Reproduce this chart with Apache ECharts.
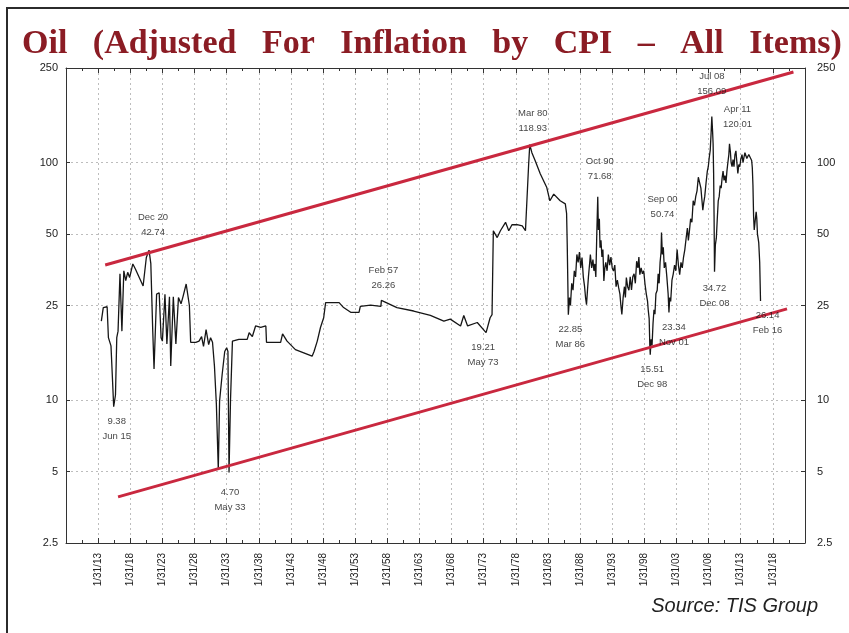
<!DOCTYPE html>
<html>
<head>
<meta charset="utf-8">
<title>Oil (Adjusted For Inflation by CPI – All Items)</title>
<script src="https://cdn.jsdelivr.net/npm/echarts@6/dist/echarts.min.js"></script>
<style>
  html, body { margin: 0; padding: 0; background: #fff; }
  #chart { width: 849px; height: 633px; }
</style>
</head>
<body>
<div id="chart"></div>
<script>
var chart = echarts.init(document.getElementById('chart'));

var years = [
  1913.5, 1913.8, 1914.4, 1914.6, 1915.0, 1915.2, 1915.42, 1915.7, 1915.9, 1916.1,
  1916.4, 1916.7, 1917.0, 1917.3, 1917.6, 1917.9, 1918.4, 1918.8, 1919.4, 1920.0,
  1920.5, 1920.92, 1921.2, 1921.5, 1921.7, 1922.1, 1922.5, 1922.8, 1923.0, 1923.4,
  1923.7, 1924.1, 1924.3, 1924.7, 1925.1, 1925.5, 1925.9, 1926.2, 1926.7, 1927.2,
  1927.4, 1928.2, 1928.7, 1929.1, 1929.4, 1929.8, 1930.2, 1930.5, 1930.8, 1931.1,
  1931.4, 1931.7, 1931.9, 1932.3, 1932.7, 1933.0, 1933.2, 1933.37, 1933.6, 1933.9,
  1934.2, 1934.9, 1936.2, 1936.5, 1937.0, 1937.5, 1938.3, 1939.1, 1939.2, 1941.4,
  1941.7, 1942.4, 1943.7, 1945.0, 1946.3, 1946.6, 1947.1, 1947.6, 1948.1, 1948.4,
  1950.5, 1951.2, 1952.3, 1953.6, 1953.8, 1955.4, 1957.0, 1957.08, 1959.5, 1962.1,
  1964.7, 1966.8, 1967.8, 1969.4, 1969.9, 1970.5, 1972.0, 1973.37, 1974.0, 1974.3,
  1974.5, 1975.1, 1975.6, 1976.4, 1976.9, 1977.4, 1978.2, 1979.0, 1979.5, 1980.0,
  1980.17, 1980.5, 1981.0, 1981.8, 1982.8, 1983.3, 1983.9, 1984.9, 1985.7, 1985.9,
  1986.0, 1986.17, 1986.35, 1986.5, 1986.7, 1986.9, 1987.1, 1987.3, 1987.5, 1987.7,
  1987.9, 1988.1, 1988.3, 1988.5, 1988.7, 1988.85, 1989.0, 1989.15, 1989.3, 1989.5,
  1989.6, 1989.8, 1990.0, 1990.15, 1990.3, 1990.45, 1990.6, 1990.75, 1990.85, 1991.0,
  1991.1, 1991.25, 1991.4, 1991.55, 1991.7, 1991.85, 1992.0, 1992.2, 1992.4, 1992.6,
  1992.8, 1993.0, 1993.2, 1993.4, 1993.6, 1993.8, 1994.0, 1994.2, 1994.35, 1994.5,
  1994.7, 1994.9, 1995.05, 1995.2, 1995.4, 1995.6, 1995.8, 1996.0, 1996.2, 1996.4,
  1996.6, 1996.8, 1997.0, 1997.15, 1997.3, 1997.5, 1997.7, 1997.9, 1998.1, 1998.3,
  1998.5, 1998.6, 1998.75, 1998.85, 1998.92, 1999.05, 1999.2, 1999.35, 1999.5, 1999.65,
  1999.8, 2000.0, 2000.15, 2000.3, 2000.45, 2000.6, 2000.67, 2000.8, 2000.95, 2001.1,
  2001.3, 2001.5, 2001.7, 2001.83, 2001.95, 2002.1, 2002.3, 2002.5, 2002.7, 2002.9,
  2003.1, 2003.3, 2003.5, 2003.7, 2003.9, 2004.1, 2004.3, 2004.5, 2004.7, 2004.85,
  2005.0, 2005.2, 2005.4, 2005.6, 2005.8, 2006.0, 2006.2, 2006.4, 2006.6, 2006.8,
  2006.95, 2007.1, 2007.25, 2007.4, 2007.6, 2007.8, 2007.95, 2008.1, 2008.25, 2008.4,
  2008.5, 2008.62, 2008.7, 2008.78, 2008.85, 2008.92, 2009.05, 2009.2, 2009.35, 2009.5,
  2009.65, 2009.8, 2009.95, 2010.1, 2010.25, 2010.4, 2010.55, 2010.7, 2010.85, 2011.0,
  2011.15, 2011.25, 2011.4, 2011.5, 2011.65, 2011.8, 2011.95, 2012.1, 2012.25, 2012.4,
  2012.55, 2012.7, 2012.85, 2013.0, 2013.2, 2013.35, 2013.5, 2013.65, 2013.8, 2013.95,
  2014.1, 2014.25, 2014.4, 2014.55, 2014.7, 2014.8, 2014.9, 2015.0, 2015.1, 2015.25,
  2015.4, 2015.5, 2015.6, 2015.7, 2015.8, 2015.95, 2016.08
];
var prices = [
  21.5, 24.5, 24.7, 18.3, 16.9, 12.8, 9.38, 10.5, 18.3, 19.5,
  34, 19.5, 35, 31.8, 34.5, 32.8, 37.4, 35.6, 32.8, 30.2,
  39.8, 42.74, 37.5, 19.5, 13.5, 27.9, 28.3, 18.3, 17.7, 27.9,
  17.2, 27.2, 13.9, 27.2, 17.2, 27.0, 25.4, 27.2, 30.8, 25.0,
  17.5, 17.5, 17.7, 18.5, 16.8, 19.8, 17.1, 18.3, 17.5, 13.9,
  9.6, 5.1, 9.9, 12.8, 16.0, 16.6, 16.0, 4.95, 10.0, 17.7,
  18.0, 18.0, 18.0, 19.2, 18.5, 20.5, 20.2, 20.5, 17.5, 17.5,
  19.0, 17.7, 16.3, 15.8, 15.3, 16.0, 17.7, 20.2, 22.2, 25.7,
  25.7, 24.5, 23.4, 23.4, 24.8, 25.1, 24.8, 26.26, 24.5, 23.7,
  22.7, 21.5, 21.9, 20.5, 22.7, 20.5, 21.2, 19.21, 22.2, 22.9,
  51.6, 48.3, 51.6, 56, 51.6, 54.7, 54.7, 54.1, 51.6, 98.8,
  118.93, 110, 102, 89.7, 78.7, 69, 73.6, 69, 67, 61,
  45, 22.85, 27, 25, 31, 29, 35, 33, 41, 38,
  42, 36, 39.8, 33, 30, 27, 25.2, 29, 33, 38,
  41, 36, 39, 35, 37.4, 33, 50, 71.68, 52, 58,
  43.8, 47, 40, 43, 31.7, 36, 38, 35, 41, 37,
  40, 36, 34.9, 37, 30, 32, 29.7, 27.9, 25, 22.9,
  27, 30, 27, 32.8, 30, 29, 33, 29.1, 33, 34,
  31, 38.4, 36, 40, 33.7, 36, 34, 35, 30.8, 28,
  26, 24, 22, 17, 15.51, 18, 17, 21, 24, 23,
  28, 29, 34, 31, 38, 42, 50.74, 41, 44, 36,
  38, 33, 28, 23.34, 27, 26, 32, 34, 37, 35,
  43, 37, 33.7, 38, 36, 40, 43, 48, 53, 47,
  51, 58, 56, 69, 66, 72, 76, 86.7, 88, 78,
  70, 63, 68, 72, 82, 92, 96, 105, 112.5, 135,
  156.09, 135, 120, 90, 60, 34.72, 45, 48, 58, 69,
  72, 80, 78, 86, 92, 84, 88, 82, 92, 100,
  108, 120.01, 110, 100, 96, 103, 96, 108, 112, 100,
  90, 98, 96, 103, 108, 100, 105, 110, 108, 104,
  106, 108, 110, 106, 102, 95, 80, 59.5, 52, 57,
  62, 58, 50, 48, 46, 38, 26.14
];

// trend channel end points
var upperYears = [1914.1, 2021.2];
var upperValues = [37.0, 240.6];
var lowerYears = [1916.1, 2020.2];
var lowerValues = [3.91, 24.2];

// callouts
var noteNames = ['Jun 15', 'Dec 20', 'May 33', 'Feb 57', 'May 73', 'Mar 80', 'Mar 86', 'Oct 90',
  'Dec 98', 'Sep 00', 'Nov 01', 'Jul 08', 'Apr 11', 'Dec 08', 'Feb 16'];
var noteYears = [1915.42, 1920.92, 1933.37, 1957.08, 1973.37, 1980.17, 1986.17, 1990.75,
  1998.92, 2000.67, 2001.83, 2008.5, 2011.25, 2008.92, 2016.08];
var noteValues = [9.38, 42.74, 4.70, 26.26, 19.21, 118.93, 22.85, 71.68,
  15.51, 50.74, 23.34, 156.09, 120.01, 34.72, 26.14];

// label placement for the callouts: side, distance, x shift
var noteLayout = [
  ['bottom', 7, 3], ['top', 10, 4], ['bottom', 7, 1], ['top', 8, 2], ['bottom', 7, -3],
  ['top', 9, 3], ['bottom', 7, 2], ['top', 13, 2], ['bottom', 7, 2], ['top', 11, 1],
  ['bottom', 7, 5], ['top', 18, 0], ['top', 12, 8], ['bottom', 9, 0], ['bottom', 7, 7]
];

var yTicks = [2.5, 5, 10, 25, 50, 100, 250];
var yMin = 2.5, yMax = 250;
var xMin = 1908, xMax = 2023, xStep = 5;

var logTicks = yTicks.map(function (v) { return Math.log10(v); });

function yLabel(v) {
  return String(parseFloat(Math.pow(10, v).toPrecision(3)));
}
function xLabel(v) {
  if (v <= xMin || v >= xMax) return '';
  var yy = Math.round(v) % 100;
  return '1/31/' + (yy < 10 ? '0' + yy : yy);
}

var red = '#c9283f';
var gridLine = { show: true, lineStyle: { color: '#bdbdbd', type: [2, 3], width: 1 } };

var notes = noteNames.map(function (n, i) {
  var lay = noteLayout[i];
  var val = noteValues[i].toFixed(2);
  return {
    value: [noteYears[i], noteValues[i]],
    label: {
      position: lay[0],
      distance: lay[1],
      offset: [lay[2], 0],
      formatter: lay[0] === 'top' ? n + '\n' + val : val + '\n' + n
    }
  };
});

var option = {
  backgroundColor: '#fff',
  animation: false,
  title: {
    text: 'Oil   (Adjusted   For   Inflation   by   CPI   –   All   Items)',
    left: 17,
    top: 22,
    textStyle: {
      fontFamily: 'Liberation Serif',
      fontWeight: 'bold',
      fontSize: 34,
      color: '#8b1c24'
    }
  },
  grid: { left: 66, right: 44, top: 68, bottom: 90 },
  xAxis: [
    {
      type: 'value', position: 'bottom',
      min: xMin, max: xMax, interval: xStep,
      axisLine: { lineStyle: { color: '#333', width: 1 } },
      axisTick: { inside: true, length: 5, lineStyle: { color: '#333' } },
      minorTick: { show: true, splitNumber: 2, length: 3, lineStyle: { color: '#333' } },
      splitLine: gridLine,
      axisLabel: {
        rotate: 90, margin: 10, fontSize: 10, color: '#222',
        fontFamily: 'Liberation Sans', formatter: xLabel
      }
    },
    {
      type: 'value', position: 'top',
      min: xMin, max: xMax, interval: xStep,
      axisLine: { lineStyle: { color: '#333', width: 1 } },
      axisTick: { inside: true, length: 5, lineStyle: { color: '#333' } },
      minorTick: { show: true, splitNumber: 2, length: 3, lineStyle: { color: '#333' } },
      splitLine: { show: false },
      axisLabel: { show: false }
    }
  ],
  yAxis: [
    {
      type: 'log', logBase: 10, min: yMin, max: yMax, show: false
    },
    {
      type: 'value', position: 'left',
      min: Math.log10(yMin), max: Math.log10(yMax),
      axisLine: { show: true, lineStyle: { color: '#333', width: 1 } },
      axisTick: { show: true, inside: true, length: 4, customValues: logTicks, lineStyle: { color: '#333' } },
      splitLine: gridLine,
      axisLabel: {
        customValues: logTicks, formatter: yLabel, margin: 8,
        fontSize: 11, color: '#222', fontFamily: 'Liberation Sans'
      }
    },
    {
      type: 'value', position: 'right',
      min: Math.log10(yMin), max: Math.log10(yMax),
      axisLine: { show: true, lineStyle: { color: '#333', width: 1 } },
      axisTick: { show: true, inside: true, length: 4, customValues: logTicks, lineStyle: { color: '#333' } },
      splitLine: { show: false },
      axisLabel: {
        customValues: logTicks, formatter: yLabel, margin: 12,
        fontSize: 11, color: '#222', fontFamily: 'Liberation Sans'
      }
    }
  ],
  series: [
    {
      name: 'Oil', type: 'line', xAxisIndex: 0, yAxisIndex: 0,
      data: years.map(function (y, i) { return [y, prices[i]]; }),
      symbol: 'none',
      lineStyle: { color: '#161616', width: 1.3 },
      z: 3
    },
    {
      name: 'upper', type: 'line', xAxisIndex: 0, yAxisIndex: 0,
      data: upperYears.map(function (y, i) { return [y, upperValues[i]]; }),
      symbol: 'none',
      lineStyle: { color: red, width: 3 },
      z: 4
    },
    {
      name: 'lower', type: 'line', xAxisIndex: 0, yAxisIndex: 0,
      data: lowerYears.map(function (y, i) { return [y, lowerValues[i]]; }),
      symbol: 'none',
      lineStyle: { color: red, width: 3 },
      z: 4
    },
    {
      name: 'notes', type: 'scatter', xAxisIndex: 0, yAxisIndex: 0,
      data: notes,
      symbolSize: 0,
      label: {
        show: true, fontSize: 9.5, lineHeight: 15, color: '#111',
        fontFamily: 'Liberation Sans', align: 'center'
      },
      z: 5
    }
  ],
  graphic: [
    {
      type: 'rect', silent: true,
      shape: { x: 7, y: 8, width: 900, height: 700 },
      style: { fill: null, stroke: '#2b2b2b', lineWidth: 2 }
    },
    {
      type: 'text', right: 31, top: 596,
      style: {
        text: 'Source: TIS Group',
        font: 'italic 20px "Liberation Sans"',
        fill: '#222'
      }
    }
  ]
};

chart.setOption(option);
</script>
</body>
</html>
